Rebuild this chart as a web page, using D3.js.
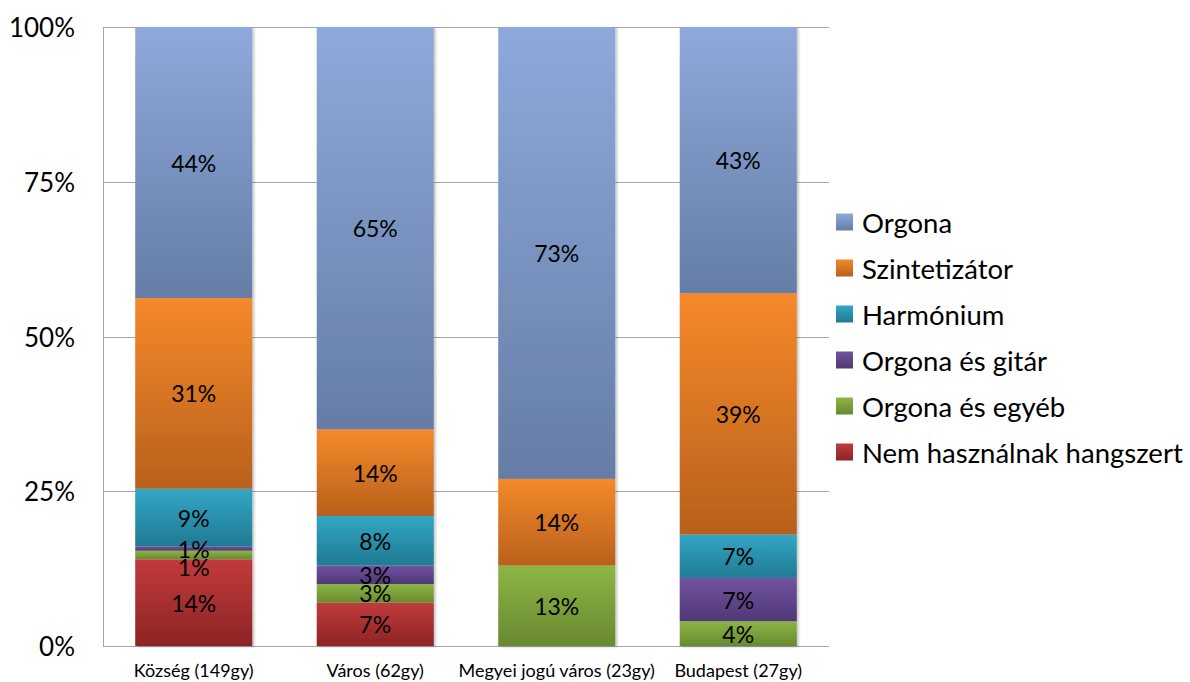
<!DOCTYPE html>
<html>
<head>
<meta charset="utf-8">
<script src="https://cdn.jsdelivr.net/npm/d3@7"></script>
<style>
  html, body { margin: 0; padding: 0; background: #fff; }
  svg { display: block; }
  text { font-family: Lato, "Open Sans", sans-serif; fill: #000; }
</style>
</head>
<body>
<svg id="chart" width="1190" height="682"></svg>
<script>
// ---- Data ----
const categories = ["Község (149gy)", "Város (62gy)", "Megyei jogú város (23gy)", "Budapest (27gy)"];
const seriesNames = ["Nem használnak hangszert", "Orgona és egyéb", "Orgona és gitár", "Harmónium", "Szintetizátor", "Orgona"];
const nemHasznalnak = [14, 7, 0, 0];
const orgonaEsEgyeb = [1.4, 3, 13, 4];
const orgonaEsGitar = [0.7, 3, 0, 7];
const harmonium = [9.3, 8, 0, 7];
const szintetizator = [30.8, 14, 14, 39];
const orgona = [43.8, 65, 73, 43];
const yTicks = [0, 25, 50, 75, 100];
const yTickLabels = ["0%", "25%", "50%", "75%", "100%"];

const seriesValues = [nemHasznalnak, orgonaEsEgyeb, orgonaEsGitar, harmonium, szintetizator, orgona];
const seriesColors = [
  ["#C13A3B", "#8C2425"],
  ["#8DB545", "#688930"],
  ["#7253A2", "#4E3874"],
  ["#32A6C6", "#217A92"],
  ["#F5892A", "#B8601C"],
  ["#8EA9DA", "#657DA6"]
];

const table = categories.map((c, i) => {
  const row = { cat: c };
  seriesNames.forEach((s, j) => row[s] = seriesValues[j][i]);
  return row;
});

const svg = d3.select("#chart");
const margin = { left: 103, right: 361, top: 27, bottom: 36 };
const W = 1190, H = 682;

const x = d3.scaleBand().domain(categories).range([margin.left, W - margin.right]).paddingInner(0.355).paddingOuter(0.1775);
const y = d3.scaleLinear().domain([0, 100]).range([H - margin.bottom, margin.top]);

const defs = svg.append("defs");
seriesNames.forEach((s, j) => {
  const g = defs.append("linearGradient").attr("id", "grad" + j)
    .attr("x1", 0).attr("y1", 0).attr("x2", 0).attr("y2", 1);
  g.append("stop").attr("offset", "0%").attr("stop-color", seriesColors[j][0]);
  g.append("stop").attr("offset", "100%").attr("stop-color", seriesColors[j][1]);
});
const f = defs.append("filter").attr("id", "shadow").attr("x", "-10%").attr("y", "-10%").attr("width", "130%").attr("height", "130%");
f.append("feDropShadow").attr("dx", 2).attr("dy", 1).attr("stdDeviation", 1.2).attr("flood-color", "#000").attr("flood-opacity", 0.22);

// gridlines
svg.append("g").selectAll("line").data(yTicks).join("line")
  .attr("x1", margin.left).attr("x2", W - margin.right)
  .attr("y1", d => Math.round(y(d)) + 0.5).attr("y2", d => Math.round(y(d)) + 0.5)
  .attr("stroke", "#A6A6A6").attr("stroke-width", 1);
// left axis line
svg.append("line")
  .attr("x1", margin.left + 0.5).attr("x2", margin.left + 0.5)
  .attr("y1", y(100)).attr("y2", y(0) + 0.5)
  .attr("stroke", "#A6A6A6");

// y tick labels
svg.append("g").selectAll("text").data(yTicks).join("text")
  .attr("x", 75).attr("y", d => y(d))
  .attr("text-anchor", "end").attr("dominant-baseline", "central")
  .style("font-size", "26px")
  .text((d, i) => yTickLabels[i]);

// stacked bars
const stack = d3.stack().keys(seriesNames);
const stacked = stack(table);

const barGroups = svg.append("g").selectAll("g").data(categories).join("g")
  .attr("filter", "url(#shadow)");
barGroups.each(function(cat, i) {
  const g = d3.select(this);
  stacked.forEach((layer, j) => {
    const seg = layer[i];
    if (seg[1] - seg[0] <= 0) return;
    g.append("rect")
      .attr("x", x(cat)).attr("width", x.bandwidth())
      .attr("y", y(seg[1])).attr("height", y(seg[0]) - y(seg[1]))
      .attr("fill", "url(#grad" + j + ")");
  });
});

// data labels with simple top-down overlap avoidance
const labelGap = 18;
categories.forEach((cat, i) => {
  const labels = [];
  stacked.forEach((layer, j) => {
    const seg = layer[i];
    const v = seg[1] - seg[0];
    if (v <= 0) return;
    labels.push({ v, cy: y((seg[0] + seg[1]) / 2) });
  });
  labels.sort((a, b) => a.cy - b.cy);
  for (let k = 1; k < labels.length; k++) {
    if (labels[k].cy - labels[k - 1].cy < labelGap) labels[k].cy = labels[k - 1].cy + labelGap;
  }
  svg.append("g").selectAll("text").data(labels).join("text")
    .attr("x", x(cat) + x.bandwidth() / 2).attr("y", d => d.cy)
    .attr("text-anchor", "middle").attr("dominant-baseline", "central")
    .style("font-size", "23px")
    .text(d => d3.format(".0f")(d.v) + "%");
});

// x axis labels
svg.append("g").selectAll("text").data(categories).join("text")
  .attr("x", d => x(d) + x.bandwidth() / 2).attr("y", 670)
  .attr("text-anchor", "middle").attr("dominant-baseline", "central")
  .style("font-size", "18px")
  .text(d => d);

// legend
const legendOrder = seriesNames.map((s, j) => j).reverse();
const legend = svg.append("g").selectAll("g").data(legendOrder).join("g")
  .attr("transform", (d, k) => `translate(836, ${222 + k * 46})`);
legend.append("rect").attr("x", 0).attr("y", -8.5).attr("width", 17).attr("height", 17)
  .attr("fill", d => "url(#grad" + d + ")");
legend.append("text").attr("x", 26).attr("y", 0).attr("dominant-baseline", "central")
  .style("font-size", "27.5px")
  .text(d => seriesNames[d]);
</script>
</body>
</html>
